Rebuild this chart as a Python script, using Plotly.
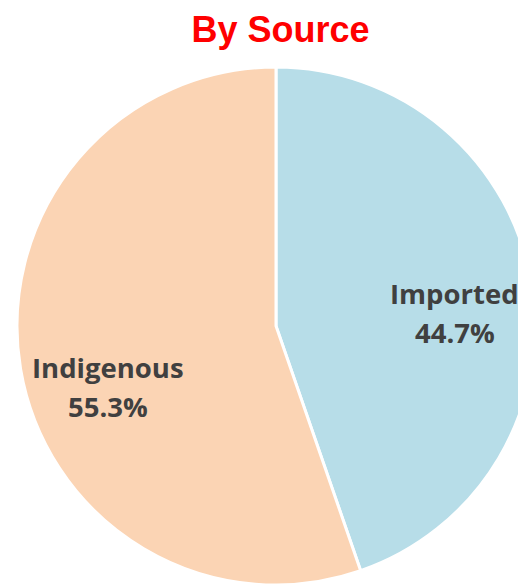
import plotly.graph_objects as go

labels = ["Imported", "Indigenous"]
values = [44.7, 55.3]
colors = ["#b7dde8", "#fbd4b4"]
title_text = "By Source"

# label anchor positions (paper coords) for the data labels (name line)
label_pos = {"Imported": (0.845, 0.563), "Indigenous": (0.175, 0.42)}
line_gap = 39 / 518  # gap between name line and percent line (paper units)

W, H = 545, 577
fig = go.Figure(go.Pie(
    labels=labels, values=values, sort=False, direction="clockwise", rotation=0,
    marker=dict(colors=colors, line=dict(color="white", width=3)),
    textinfo="none", hoverinfo="label+percent", showlegend=False,
))

ann = []
font = dict(family="Open Sans", size=27.5, color="#404040")
for lab, v in zip(labels, values):
    x, y = label_pos[lab]
    ann.append(dict(x=x, y=y, xref="paper", yref="paper", showarrow=False,
                    xanchor="center", yanchor="middle", text=f"<b>{lab}</b>", font=font))
    ann.append(dict(x=x, y=y - line_gap, xref="paper", yref="paper", showarrow=False,
                    xanchor="center", yanchor="middle", text=f"<b>{v:.1f}%</b>", font=font))
fig.update_layout(
    width=W, height=H,
    margin=dict(l=9, r=18, t=59, b=0),
    paper_bgcolor="white", plot_bgcolor="white",
    title=dict(text=f"<b>{title_text}</b>", x=272.5 / W, xanchor="center", y=1 - 21 / H, yanchor="middle",
               font=dict(family="Liberation Sans", size=36, color="#ff0000")),
    annotations=ann,
)
fig.write_html("out.html")
